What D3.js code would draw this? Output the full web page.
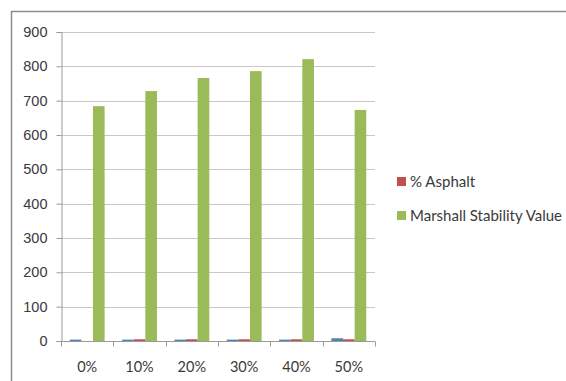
<!DOCTYPE html>
<html>
<head>
<meta charset="utf-8">
<script src="https://cdn.jsdelivr.net/npm/d3@7"></script>
<style>
  body { margin: 0; background: #fff; }
  svg { display: block; font-family: Lato, "Open Sans", sans-serif; }
</style>
</head>
<body>
<div id="chart"></div>
<script>
const categories = ["0%", "10%", "20%", "30%", "40%", "50%"];
const blueValues = [4, 4, 4, 4, 4, 8];
const asphaltValues = [0, 5, 5, 5, 5, 5];
const stabilityValues = [684, 728, 766, 786, 821, 673];
const yTicks = [0, 100, 200, 300, 400, 500, 600, 700, 800, 900];

const seriesNames = ["", "% Asphalt", "Marshall Stability Value"];
const seriesColors = ["#4f81bd", "#c0504d", "#9bbb59"];

const W = 566, H = 381;
const svg = d3.select("#chart").append("svg").attr("width", W).attr("height", H);

// outer frame (cut off right/bottom like the source)
svg.append("rect").attr("x", 11.5).attr("y", 11.5).attr("width", 600).attr("height", 400)
  .attr("fill", "none").attr("stroke", "#8c8c8c").attr("stroke-width", 1.5);

const plot = {left: 61, top: 32, right: 375, bottom: 341};
const x = d3.scaleBand().domain(categories).range([plot.left, plot.right]);
const y = d3.scaleLinear().domain([0, 900]).range([plot.bottom, plot.top]);

// gridlines
svg.append("g").selectAll("line").data(yTicks.filter(d => d > 0)).join("line")
  .attr("x1", plot.left).attr("x2", plot.right)
  .attr("y1", d => Math.round(y(d)) + 0.5).attr("y2", d => Math.round(y(d)) + 0.5)
  .attr("stroke", "#c8c8c8");

// bars
const series = [blueValues, asphaltValues, stabilityValues];
const bw = x.bandwidth() / 4.5;
series.forEach((vals, i) => {
  svg.append("g").selectAll("rect").data(vals).join("rect")
    .attr("x", (d, j) => x(categories[j]) + bw * 0.75 + i * bw)
    .attr("width", bw)
    .attr("y", d => y(d))
    .attr("height", d => y(0) - y(d))
    .attr("fill", seriesColors[i]);
});

// y axis
const yAxis = svg.append("g").attr("transform", `translate(${plot.left + 0.5},0)`)
  .call(d3.axisLeft(y).tickValues(yTicks).tickSize(5).tickPadding(9));
yAxis.select(".domain").attr("stroke", "#9a9a9a");
yAxis.selectAll(".tick line").attr("stroke", "#9a9a9a");
yAxis.selectAll("text").attr("fill", "#3a3a3a").style("font-size", "14.5px");

// x axis
const xAxis = svg.append("g").attr("transform", `translate(0,${plot.bottom + 0.5})`);
xAxis.append("line").attr("x1", plot.left).attr("x2", plot.right).attr("stroke", "#9a9a9a");
xAxis.selectAll("line.tk").data(categories.concat([null])).join("line").attr("class", "tk")
  .attr("x1", (d, i) => Math.round(plot.left + i * x.step()) + 0.5)
  .attr("x2", (d, i) => Math.round(plot.left + i * x.step()) + 0.5)
  .attr("y1", 0).attr("y2", 5).attr("stroke", "#9a9a9a");
xAxis.selectAll("text").data(categories).join("text")
  .attr("x", d => x(d) + x.bandwidth() / 2)
  .attr("y", 30)
  .attr("text-anchor", "middle")
  .attr("fill", "#3a3a3a")
  .style("font-size", "14.5px")
  .text(d => d);

// legend (blue series not listed)
const legend = svg.append("g");
[1, 2].forEach((si, k) => {
  const ly = 182 + k * 34;
  legend.append("rect").attr("x", 397).attr("y", ly - 5).attr("width", 9).attr("height", 9)
    .attr("fill", seriesColors[si]);
  legend.append("text").attr("x", 410).attr("y", ly + 5)
    .attr("fill", "#3a3a3a").style("font-size", "15px").text(seriesNames[si]);
});
</script>
</body>
</html>
